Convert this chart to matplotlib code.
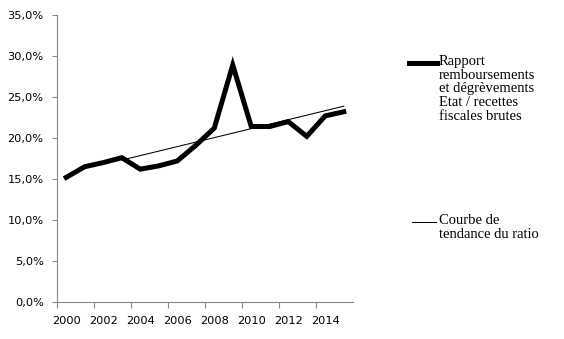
import numpy as np
import matplotlib
matplotlib.use("Agg")
import matplotlib.pyplot as plt
from matplotlib.ticker import FuncFormatter, FixedLocator
from matplotlib.lines import Line2D

# Données (%)
annees = list(range(2000, 2016))
ratio = [15.2, 16.5, 17.0, 17.6, 16.2, 16.6, 17.2, 19.1,
         21.2, 28.9, 21.4, 21.4, 22.0, 20.2, 22.7, 23.2]
debut_tendance = 2003  # la courbe de tendance part de 2003
etiquettes_x = ["2000", "2002", "2004", "2006", "2008", "2010", "2012", "2014"]
label_ratio = "Rapport\nremboursements\net dégrèvements\nEtat / recettes\nfiscales brutes"
label_tendance = "Courbe de\ntendance du ratio"

fig = plt.figure(figsize=(5.64, 3.39), dpi=100)
ax = fig.add_axes([57 / 564, 1 - 302 / 339, (353 - 57) / 564, (302 - 15) / 339])

x = np.array(annees)
y = np.array(ratio)

# Tendance linéaire calculée sur 2003-2015
m = x >= debut_tendance
a, b = np.polyfit(x[m], y[m], 1)
xt = np.array([debut_tendance, annees[-1]])
ax.plot(xt, a * xt + b, color="black", lw=0.75, zorder=2)
ax.plot(x, y, color="black", lw=3.6, solid_joinstyle="miter", zorder=3)

ax.set_xlim(annees[0] - 0.5, annees[-1] + 0.5)
ax.set_ylim(0, 35)

# Axe Y
ax.set_yticks(np.arange(0, 35.1, 5))
ax.yaxis.set_major_formatter(FuncFormatter(lambda v, p: f"{v:.1f}%".replace(".", ",")))

# Axe X : graduations entre les catégories, étiquettes centrées
ax.xaxis.set_major_locator(FixedLocator(np.arange(annees[0] - 0.5, annees[-1], 2)))
ax.xaxis.set_major_formatter(FuncFormatter(lambda v, p: ""))
ax.set_xticks([int(s) for s in etiquettes_x], minor=True)
ax.set_xticklabels(etiquettes_x, minor=True)
ax.tick_params(axis="x", which="minor", length=0, pad=10)
ax.tick_params(axis="x", which="major", length=4, color="#888888", direction="out")
ax.tick_params(axis="y", length=3.6, color="#888888", direction="out", pad=6)
ax.tick_params(which="both", labelsize=8.2, labelcolor="black")

for s in ["top", "right"]:
    ax.spines[s].set_visible(False)
for s in ["left", "bottom"]:
    ax.spines[s].set_color("#888888")
    ax.spines[s].set_linewidth(0.8)

# Légende dessinée à la main (trait aligné sur la première ligne)
serif = "Liberation Serif"
fig.add_artist(Line2D([409 / 564, 437 / 564], [1 - 63 / 339] * 2, color="black", lw=3.6,
                      transform=fig.transFigure))
fig.text(439 / 564, 1 - 55 / 339, label_ratio, fontsize=10.5, family=serif,
         va="top", ha="left", linespacing=1.07)
fig.add_artist(Line2D([412 / 564, 436 / 564], [1 - 222 / 339] * 2, color="black", lw=0.75,
                      transform=fig.transFigure))
fig.text(439 / 564, 1 - 214 / 339, label_tendance, fontsize=10.5, family=serif,
         va="top", ha="left", linespacing=1.07)

fig.savefig("out.png", dpi=100)
